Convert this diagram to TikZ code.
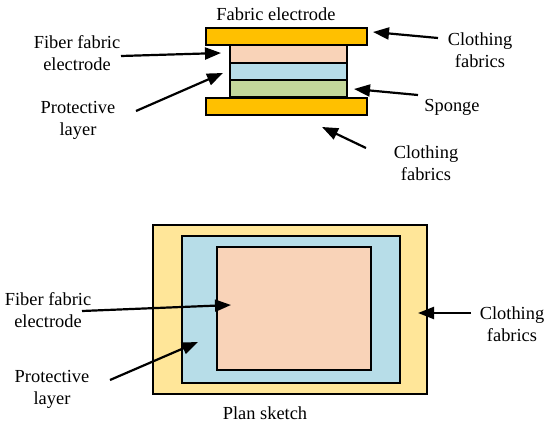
\documentclass[tikz,border=0pt]{standalone}
\usepackage{fontspec}
\setmainfont{Liberation Serif}[Ligatures=TeX]
\usetikzlibrary{arrows.meta}
\definecolor{gold}{HTML}{FFC000}
\definecolor{paleGold}{HTML}{FFE699}
\definecolor{peach}{HTML}{F9D3B8}
\definecolor{skyblue}{HTML}{B7DDE8}
\definecolor{sage}{HTML}{C4D79B}
\tikzset{
  lbl/.style={align=center, inner sep=0pt, font=\rmfamily\fontsize{18.4}{22}\selectfont},
  pointer/.style={line width=2.2pt, -{Triangle[length=16pt,width=12pt]}},
  layer/.style={draw, line width=1.4pt, inner sep=0pt},
}
\begin{document}
\begin{tikzpicture}[x=1pt,y=-1pt]
  \useasboundingbox (0,0) rectangle (550,426);
  % side view
  \node(topbar) at (286.5,36.5) [layer,fill=gold,minimum width=161pt,minimum height=17pt] {};
  \node(fiber) at (288.5,54) [layer,fill=peach,minimum width=117pt,minimum height=18pt] {};
  \node(prot) at (288.5,71.5) [layer,fill=skyblue,minimum width=117pt,minimum height=17pt] {};
  \node(sponge) at (288.5,88.5) [layer,fill=sage,minimum width=117pt,minimum height=17pt] {};
  \node(botbar) at (286.5,106.5) [layer,fill=gold,minimum width=161pt,minimum height=17pt] {};
  \node(tFab) at (276,14) [lbl] {Fabric electrode};
  \node(tFiber) at (77,53) [lbl] {Fiber fabric\\electrode};
  \node(tProt) at (78,120) [lbl] {Protective\\layer};
  \node(tClothA) at (480,50) [lbl] {Clothing\\fabrics};
  \node(tSponge) at (452,107) [lbl] {Sponge};
  \node(tClothB) at (426,163) [lbl] {Clothing\\fabrics};
  \coordinate (sFiber) at (121,56);
  \coordinate (sProt) at (136,111);
  \coordinate (sClothA) at (438,38);
  \coordinate (sSponge) at (418,95);
  \coordinate (sClothB) at (366,148);
  \coordinate (pFiber) at (221,53);
  \coordinate (pProt) at (223,73);
  \coordinate (pClothA) at (373,32);
  \coordinate (pSponge) at (354,89);
  \coordinate (pClothB) at (322,127);
  \draw[pointer] (sFiber) -- (pFiber);
  \draw[pointer] (sProt) -- (pProt);
  \draw[pointer] (sClothA) -- (pClothA);
  \draw[pointer] (sSponge) -- (pSponge);
  \draw[pointer] (sClothB) -- (pClothB);

  % plan sketch
  \node(outer) at (290,309.5) [layer,fill=paleGold,minimum width=274pt,minimum height=169pt] {};
  \node(inner) at (291,309.5) [layer,fill=skyblue,minimum width=218pt,minimum height=147pt] {};
  \node(core) at (294,308.5) [layer,fill=peach,minimum width=154pt,minimum height=123pt] {};
  \node(pFiberT) at (48,310) [lbl] {Fiber fabric\\electrode};
  \node(pProtT) at (52,389) [lbl] {Protective\\layer};
  \node(pClothT) at (512,324) [lbl] {Clothing\\fabrics};
  \node(planT) at (265,413) [lbl] {Plan sketch};
  \coordinate (qFiber) at (82,311);
  \coordinate (qProt) at (110,380);
  \coordinate (qCloth) at (471,313);
  \coordinate (rFiber) at (231,305);
  \coordinate (rProt) at (198,342);
  \coordinate (rCloth) at (418,313);
  \draw[pointer] (qFiber) -- (rFiber);
  \draw[pointer] (qProt) -- (rProt);
  \draw[pointer] (qCloth) -- (rCloth);
\end{tikzpicture}
\end{document}
